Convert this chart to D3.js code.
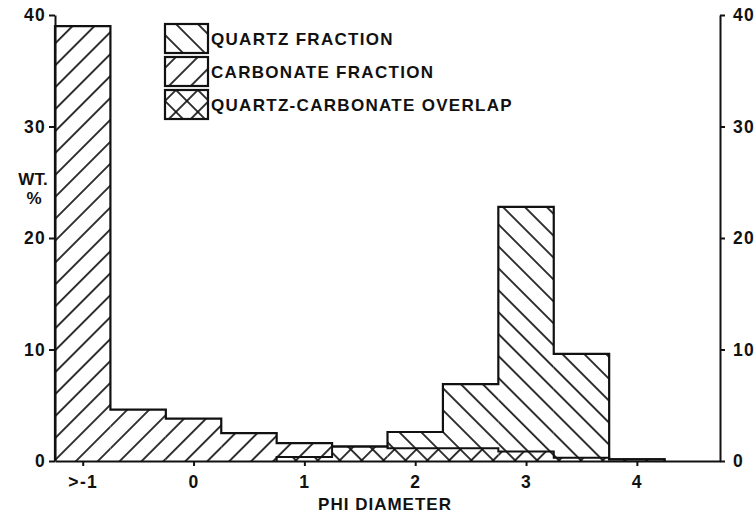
<!DOCTYPE html>
<html>
<head>
<meta charset="utf-8">
<script src="https://cdn.jsdelivr.net/npm/d3@7"></script>
<style>
  body { margin: 0; background: #fff; }
  text { font-family: "Liberation Sans", Arial, sans-serif; font-weight: bold; fill: #111; letter-spacing: 1.3px; }
</style>
</head>
<body>
<div id="chart"></div>
<script>
// bins, in phi units (centre of each half-phi class)
var bins = [-1, -0.5, 0, 0.5, 1, 1.5, 2, 2.5, 3, 3.5, 4];
// wt. %
var carbonate = [39.0, 4.6, 3.8, 2.5, 1.6, 1.3, 1.15, 1.15, 0.85, 0.3, 0.15];
var quartz    = [0, 0, 0, 0, 0.35, 1.3, 2.6, 6.9, 22.8, 9.6, 0.15];
var overlap   = [0, 0, 0, 0, 0.35, 1.3, 1.15, 1.15, 0.85, 0.3, 0.15];

var xTicks = [-1, 0, 1, 2, 3, 4];
var xTickLabels = [">-1", "0", "1", "2", "3", "4"];
var yTicks = [0, 10, 20, 30, 40];
var legendLabels = ["QUARTZ FRACTION", "CARBONATE FRACTION", "QUARTZ-CARBONATE OVERLAP"];

var W = 756, H = 515;
var half = 0.25;

var svg = d3.select("#chart")
    .append("svg")
    .attr("width", W)
    .attr("height", H);

var x = d3.scaleLinear()
    .domain([-1.25, 4.75])
    .range([55, 720]);

var y = d3.scaleLinear()
    .domain([0, 40])
    .range([461, 15]);

// hatch patterns
var defs = svg.append("defs");
function hatch(id, angle, cross) {
    var s = 15.5;
    var p = defs.append("pattern")
        .attr("id", id)
        .attr("patternUnits", "userSpaceOnUse")
        .attr("width", s)
        .attr("height", s)
        .attr("patternTransform", `rotate(${angle})`);
    p.append("rect").attr("width", s).attr("height", s).attr("fill", "white");
    p.append("line")
        .attr("x1", s / 2).attr("y1", 0).attr("x2", s / 2).attr("y2", s)
        .attr("stroke", "#111").attr("stroke-width", 1.7);
    if (cross) {
        p.append("line")
            .attr("x1", 0).attr("y1", s / 2).attr("x2", s).attr("y2", s / 2)
            .attr("stroke", "#111").attr("stroke-width", 1.7);
    }
}
hatch("quartzHatch", -45, false);
hatch("carbHatch", 45, false);
hatch("crossHatch", 45, true);

// bars
function bars(values, fill) {
    svg.append("g")
        .selectAll("rect")
        .data(bins)
        .enter()
        .append("rect")
        .attr("x", d => x(d - half))
        .attr("width", d => x(d + half) - x(d - half))
        .attr("y", (d, i) => y(values[i]))
        .attr("height", (d, i) => y(0) - y(values[i]))
        .attr("fill", fill);
}
bars(carbonate, "url(#carbHatch)");
bars(quartz, "url(#quartzHatch)");
bars(overlap, "url(#crossHatch)");

// step outlines
function stepPoints(values, from) {
    var pts = [[x(bins[from] - half), y(0)]];
    for (var i = from; i < bins.length; i++) {
        pts.push([x(bins[i] - half), y(values[i])]);
        pts.push([x(bins[i] + half), y(values[i])]);
    }
    pts.push([x(bins[bins.length - 1] + half), y(0)]);
    return pts;
}
var total = bins.map((d, i) => Math.max(carbonate[i], quartz[i]));
var line = d3.line();
svg.append("path")
    .attr("d", line(stepPoints(total, 0)))
    .attr("fill", "none")
    .attr("stroke", "#111")
    .attr("stroke-width", 2.2);
svg.append("path")
    .attr("d", line(stepPoints(overlap, 4)))
    .attr("fill", "none")
    .attr("stroke", "#111")
    .attr("stroke-width", 2);

// axes
function styleAxis(g) {
    g.selectAll("path, line").attr("stroke", "#111").attr("stroke-width", 2);
    g.selectAll("text").style("font-size", "17.5px").attr("fill", "#111");
}
svg.append("g")
    .attr("transform", "translate(55,0)")
    .call(d3.axisLeft(y).tickValues(yTicks).tickSize(6).tickSizeOuter(0).tickPadding(3))
    .call(styleAxis);
svg.append("g")
    .attr("transform", "translate(720,0)")
    .call(d3.axisRight(y).tickValues(yTicks).tickSize(5).tickSizeOuter(0).tickPadding(8))
    .call(styleAxis);
svg.append("g")
    .attr("transform", "translate(0,461)")
    .call(d3.axisBottom(x).tickValues(xTicks).tickFormat((d, i) => xTickLabels[i])
        .tickSize(5).tickSizeOuter(0).tickPadding(10))
    .call(styleAxis);

// axis titles
svg.append("text")
    .attr("x", 33)
    .attr("y", 185)
    .attr("text-anchor", "middle")
    .style("font-size", "17px")
    .style("letter-spacing", "0px")
    .text("WT.");
svg.append("text")
    .attr("x", 34)
    .attr("y", 204)
    .attr("text-anchor", "middle")
    .style("font-size", "17px")
    .style("letter-spacing", "0px")
    .text("%");
svg.append("text")
    .attr("x", 385)
    .attr("y", 510)
    .attr("text-anchor", "middle")
    .style("font-size", "17px")
    .style("letter-spacing", "1px")
    .text("PHI DIAMETER");

// legend
var legendFills = ["url(#quartzHatch)", "url(#carbHatch)", "url(#crossHatch)"];
var lg = svg.selectAll("g.legend")
    .data(legendLabels)
    .enter()
    .append("g")
    .attr("transform", (d, i) => `translate(165, ${24 + i * 33})`);
lg.append("rect")
    .attr("width", 43)
    .attr("height", 29)
    .attr("fill", (d, i) => legendFills[i])
    .attr("stroke", "#111")
    .attr("stroke-width", 2.2);
lg.append("text")
    .attr("x", 46)
    .attr("y", 21)
    .style("font-size", "17px")
    .text(d => d);
</script>
</body>
</html>
